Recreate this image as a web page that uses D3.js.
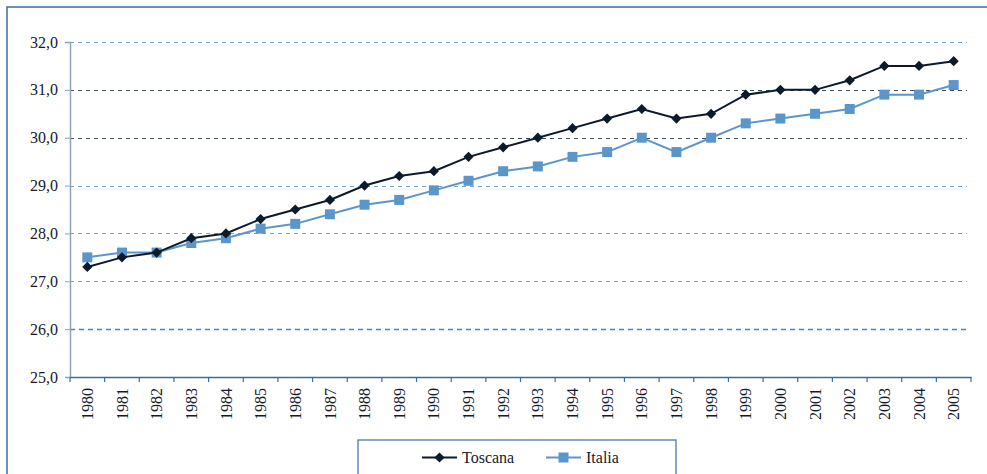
<!DOCTYPE html>
<html>
<head>
<meta charset="utf-8">
<script src="https://cdn.jsdelivr.net/npm/d3@7"></script>
<style>
  body { margin: 0; background: #fff; }
  svg { display: block; }
  svg text { font-family: "Liberation Serif", "Times New Roman", serif; }
</style>
</head>
<body>
<div id="chart"></div>
<script>
const years = ["1980","1981","1982","1983","1984","1985","1986","1987","1988","1989","1990","1991","1992",
  "1993","1994","1995","1996","1997","1998","1999","2000","2001","2002","2003","2004","2005"];
const toscana = [27.3,27.5,27.6,27.9,28.0,28.3,28.5,28.7,29.0,29.2,29.3,29.6,29.8,
  30.0,30.2,30.4,30.6,30.4,30.5,30.9,31.0,31.0,31.2,31.5,31.5,31.6];
const italia = [27.5,27.6,27.6,27.8,27.9,28.1,28.2,28.4,28.6,28.7,28.9,29.1,29.3,
  29.4,29.6,29.7,30.0,29.7,30.0,30.3,30.4,30.5,30.6,30.9,30.9,31.1];
const yTicks = [25,26,27,28,29,30,31,32];

const width = 987, height = 474;
const margin = {left: 70, right: 16, top: 42, bottom: 97};

const svg = d3.select("#chart").append("svg")
  .attr("width", width).attr("height", height);

// cornice esterna
svg.append("rect")
  .attr("x", 7).attr("y", 7).attr("width", 1000).attr("height", 500)
  .attr("fill", "none").attr("stroke", "#3d6d9c").attr("stroke-width", 1.5);

const x = d3.scaleBand().domain(years).range([margin.left, width - margin.right]);
const y = d3.scaleLinear().domain([25, 32]).range([height - margin.bottom, margin.top]);

// griglia tratteggiata
const gridColor = v => (v === 30 || v === 31) ? "#3a4a5c" : (v === 26 ? "#3f85cc" : "#6fa4d6");
svg.append("g").selectAll("line")
  .data(yTicks.filter(v => v > 25))
  .join("line")
  .attr("x1", margin.left).attr("x2", width - margin.right - 4)
  .attr("y1", d => Math.round(y(d)) + 0.5).attr("y2", d => Math.round(y(d)) + 0.5)
  .attr("stroke", gridColor)
  .attr("stroke-width", d => d === 26 ? 1.4 : 1)
  .attr("stroke-dasharray", d => d === 26 ? "5,4" : "4,4");

// asse Y
const yAxis = svg.append("g")
  .attr("transform", `translate(${margin.left},0)`)
  .call(d3.axisLeft(y).tickValues(yTicks).tickSize(5).tickPadding(7)
    .tickFormat(d => d3.format(".1f")(d).replace(".", ",")));
yAxis.attr("font-family", null).attr("font-size", null);
yAxis.select(".domain").attr("stroke", "#8ea3bb").attr("stroke-width", 1.5);
yAxis.selectAll(".tick line").attr("stroke", "#8ea3bb");
yAxis.selectAll("text").attr("fill", "#151a2a").style("font-size", "16px");

// asse X
const xAxis = svg.append("g")
  .attr("transform", `translate(0,${height - margin.bottom})`)
  .call(d3.axisBottom(x).tickSize(0).tickPadding(0));
xAxis.attr("font-family", null).attr("font-size", null);
xAxis.select(".domain").attr("stroke", "#3d6d9c").attr("stroke-width", 1.5);
xAxis.selectAll(".tick text")
  .attr("transform", "rotate(-90)")
  .attr("text-anchor", "end")
  .attr("x", -11).attr("y", 0).attr("dy", "0.35em")
  .attr("fill", "#151a2a")
  .style("font-size", "16px");
// tacche tra le categorie
xAxis.append("g").selectAll("line")
  .data(years.map(d => x(d)).concat([x(years[years.length - 1]) + x.bandwidth()]))
  .join("line")
  .attr("x1", d => d).attr("x2", d => d)
  .attr("y1", 0).attr("y2", 5)
  .attr("stroke", "#3d6d9c").attr("stroke-width", 1.2);

const cx = (d, i) => x(years[i]) + x.bandwidth() / 2;
const line = d3.line().x(cx).y(d => y(d));

const series = [
  {name: "Toscana", values: toscana, color: "#0c1a2c", symbol: d3.symbolSquare, size: 52, rot: 45},
  {name: "Italia", values: italia, color: "#5b96cb", symbol: d3.symbolSquare, size: 100, rot: 0}
];

// Italia sotto, Toscana sopra
[series[1], series[0]].forEach(s => {
  svg.append("path")
    .datum(s.values)
    .attr("fill", "none")
    .attr("stroke", s.color)
    .attr("stroke-width", 2)
    .attr("d", line);
  svg.append("g").selectAll("path")
    .data(s.values)
    .join("path")
    .attr("transform", (d, i) => `translate(${cx(d, i)},${y(d)}) rotate(${s.rot})`)
    .attr("d", d3.symbol().type(s.symbol).size(s.size))
    .attr("fill", s.color);
});

// legenda
const lg = svg.append("g");
lg.append("rect")
  .attr("x", 358).attr("y", 440).attr("width", 318).attr("height", 40)
  .attr("fill", "#fff").attr("stroke", "#3d6d9c").attr("stroke-width", 1.2);
const legendItems = [
  {s: series[0], x0: 422},
  {s: series[1], x0: 546}
];
legendItems.forEach(({s, x0}) => {
  lg.append("line")
    .attr("x1", x0).attr("x2", x0 + 35).attr("y1", 457.5).attr("y2", 457.5)
    .attr("stroke", s.color).attr("stroke-width", 2);
  lg.append("path")
    .attr("transform", `translate(${x0 + 17.5},457.5) rotate(${s.rot})`)
    .attr("d", d3.symbol().type(s.symbol).size(s.size))
    .attr("fill", s.color);
  lg.append("text")
    .attr("x", x0 + 40).attr("y", 463)
    .attr("fill", "#151a2a")
    .style("font-size", "16px")
    .text(s.name);
});
</script>
</body>
</html>
